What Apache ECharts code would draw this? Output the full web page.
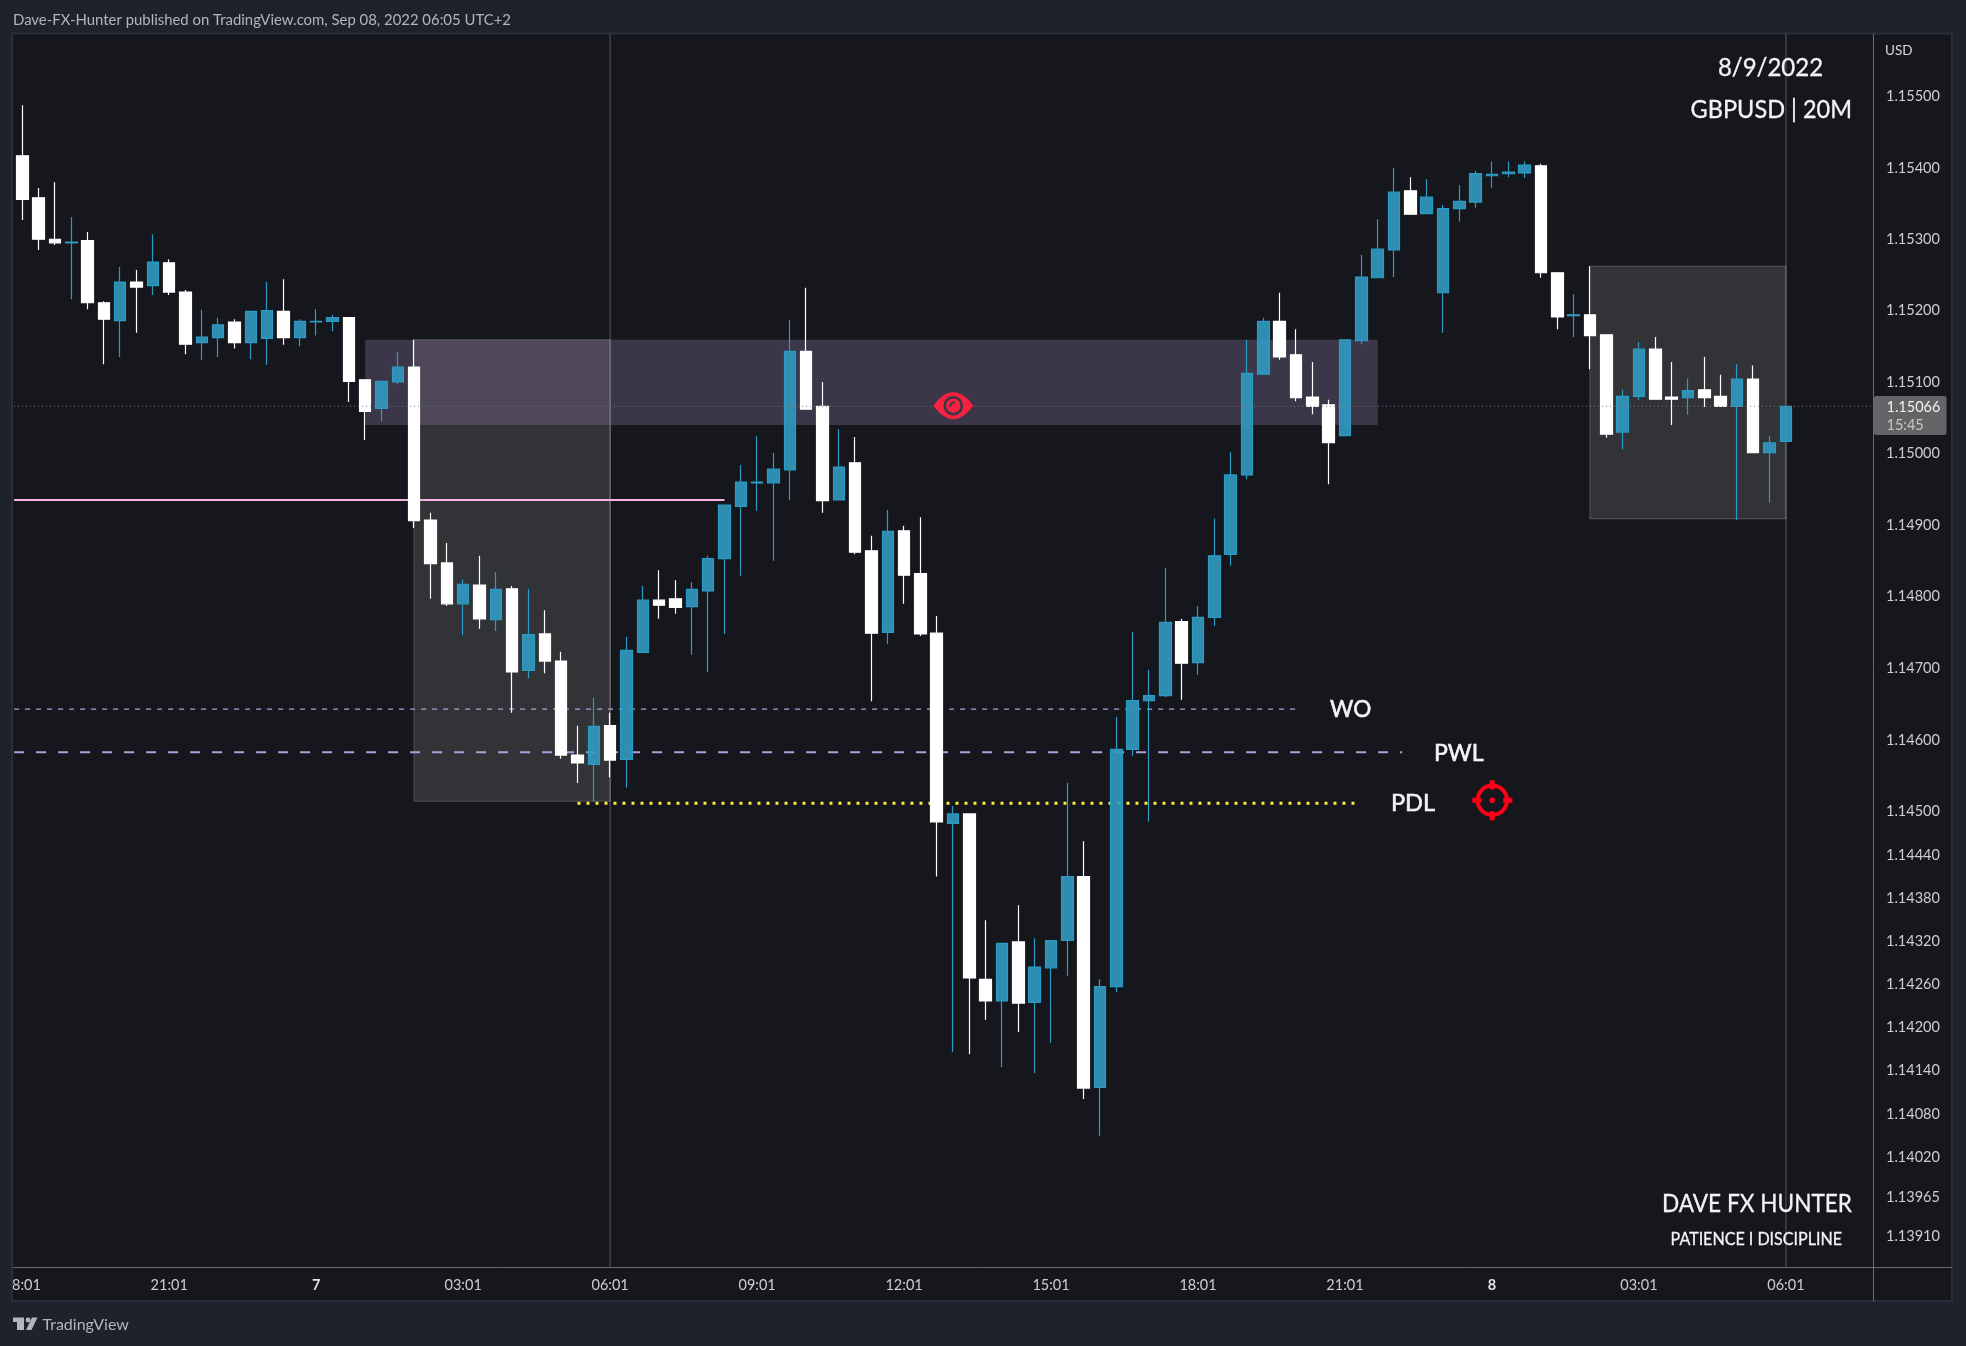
<!DOCTYPE html>
<html><head><meta charset="utf-8">
<style>html,body{margin:0;padding:0;background:#1e222d}#c{width:1966px;height:1346px}</style>
<script src="https://cdn.jsdelivr.net/npm/echarts@6/dist/echarts.min.js"></script>
</head><body><div id="c"></div>
<script>
const opens = [1.15417,1.15358,1.15300,1.15295,1.15298,1.15211,1.15186,1.15240,1.15235,1.15267,1.15226,1.15155,1.15162,1.15184,1.15155,1.15161,1.15199,1.15162,1.15184,1.15185,1.15190,1.15103,1.15063,1.15100,1.15121,1.14907,1.14847,1.14790,1.14816,1.14768,1.14811,1.14697,1.14748,1.14710,1.14579,1.14566,1.14620,1.14573,1.14722,1.14795,1.14797,1.14786,1.14808,1.14853,1.14926,1.14959,1.14959,1.14977,1.15143,1.15066,1.14935,1.14987,1.14864,1.14750,1.14892,1.14832,1.14749,1.14484,1.14497,1.14267,1.14237,1.14319,1.14235,1.14283,1.14321,1.14410,1.14117,1.14257,1.14587,1.14655,1.14662,1.14765,1.14708,1.14771,1.14859,1.14970,1.15111,1.15185,1.15138,1.15079,1.15068,1.15025,1.15158,1.15246,1.15285,1.15368,1.15336,1.15225,1.15343,1.15352,1.15389,1.15392,1.15393,1.15403,1.15253,1.15193,1.15194,1.15166,1.15030,1.15080,1.15146,1.15079,1.15078,1.15089,1.15080,1.15066,1.15104,1.15001,1.15017];
const highs = [1.15488,1.15372,1.15380,1.15331,1.15310,1.15213,1.15261,1.15257,1.15307,1.15272,1.15229,1.15201,1.15190,1.15188,1.15199,1.15240,1.15244,1.15188,1.15202,1.15194,1.15190,1.15104,1.15101,1.15142,1.15159,1.14917,1.14875,1.14824,1.14857,1.14834,1.14815,1.14811,1.14781,1.14723,1.14620,1.14659,1.14638,1.14744,1.14815,1.14837,1.14823,1.14820,1.14857,1.14928,1.14984,1.15024,1.15001,1.15187,1.15232,1.15100,1.15034,1.15023,1.14885,1.14921,1.14899,1.14911,1.14773,1.14508,1.14497,1.14349,1.14317,1.14370,1.14324,1.14321,1.14540,1.14459,1.14267,1.14632,1.14751,1.14698,1.14840,1.14769,1.14787,1.14909,1.15002,1.15159,1.15190,1.15225,1.15174,1.15128,1.15075,1.15159,1.15278,1.15328,1.15400,1.15387,1.15384,1.15348,1.15376,1.15396,1.15409,1.15409,1.15409,1.15406,1.15254,1.15223,1.15262,1.15166,1.15089,1.15156,1.15163,1.15128,1.15105,1.15135,1.15110,1.15125,1.15123,1.15024,1.15066];
const lows = [1.15327,1.15285,1.15292,1.15216,1.15202,1.15125,1.15135,1.15169,1.15222,1.15222,1.15139,1.15131,1.15135,1.15147,1.15132,1.15124,1.15152,1.15150,1.15165,1.15171,1.15072,1.15019,1.15045,1.15097,1.14896,1.14797,1.14787,1.14746,1.14755,1.14752,1.14638,1.14686,1.14693,1.14574,1.14540,1.14514,1.14548,1.14534,1.14722,1.14769,1.14776,1.14719,1.14695,1.14748,1.14829,1.14920,1.14850,1.14935,1.15062,1.14917,1.14935,1.14859,1.14654,1.14734,1.14790,1.14745,1.14410,1.14166,1.14163,1.14211,1.14145,1.14194,1.14137,1.14179,1.14272,1.14101,1.14050,1.14249,1.14578,1.14486,1.14660,1.14656,1.14691,1.14759,1.14843,1.14964,1.15110,1.15131,1.15073,1.15055,1.14957,1.15025,1.15153,1.15246,1.15247,1.15334,1.15335,1.15169,1.15325,1.15344,1.15372,1.15387,1.15386,1.15246,1.15174,1.15163,1.15118,1.15022,1.15006,1.15075,1.15075,1.15040,1.15054,1.15065,1.15066,1.14907,1.15001,1.14931,1.15017];
const closes = [1.15356,1.15300,1.15295,1.15296,1.15211,1.15188,1.15240,1.15233,1.15268,1.15226,1.15153,1.15163,1.15180,1.15155,1.15199,1.15200,1.15162,1.15185,1.15185,1.15190,1.15101,1.15059,1.15101,1.15121,1.14906,1.14846,1.14790,1.14817,1.14769,1.14810,1.14695,1.14747,1.14710,1.14579,1.14568,1.14619,1.14572,1.14725,1.14795,1.14788,1.14785,1.14810,1.14853,1.14928,1.14960,1.14960,1.14978,1.15143,1.15062,1.14934,1.14981,1.14862,1.14749,1.14891,1.14830,1.14748,1.14486,1.14497,1.14269,1.14237,1.14317,1.14234,1.14284,1.14321,1.14410,1.14116,1.14257,1.14587,1.14655,1.14662,1.14764,1.14707,1.14771,1.14857,1.14970,1.15112,1.15185,1.15135,1.15078,1.15066,1.15015,1.15159,1.15247,1.15286,1.15366,1.15335,1.15359,1.15343,1.15353,1.15392,1.15391,1.15394,1.15404,1.15253,1.15191,1.15194,1.15165,1.15027,1.15080,1.15146,1.15076,1.15076,1.15088,1.15078,1.15066,1.15104,1.15001,1.15015,1.15066];
const timeTicks = ['18:01','21:01','7','03:01','06:01','09:01','12:01','15:01','18:01','21:01','8','03:01','06:01'];
const priceTicks = [1.155,1.154,1.153,1.152,1.151,1.15,1.149,1.148,1.147,1.146,1.145,1.1444,1.1438,1.1432,1.1426,1.142,1.1414,1.1408,1.1402,1.13965,1.1391];
const lastPrice = 1.15066;
const zonePurple = [21,1.15159,83,1.15040];
const zoneGrayA = [24,1.15159,36,1.14515];
const zoneGrayB = [96,1.15262,108,1.14909];
const pinkLevel = [-0.5,43,1.14935];
const woLevel = [-0.5,78,1.14643];
const pwlLevel = [-0.5,84.5,1.14583];
const pdlLevel = [34,81.6,1.14512];
const crossBars = [36,108];

const yMin = 1.138666, yMax = 1.155881, slots = 114;
const bg='#16171c', page='#1e222d', frame='#2a2e39', axisCol='#6a6c73', txt='#ccced3', bright='#f2f3f6', F='Lato, "Open Sans", sans-serif';
const candles = opens.map((o,i)=>[o,closes[i],lows[i],highs[i]]);
const cats = Array.from({length:slots},(_,i)=>String(i));

function line(id,lv,style,z){return {id,type:'line',xAxisIndex:1,yAxisIndex:0,z:z||1,silent:true,symbol:'none',animation:false,
  data:[[lv[0],lv[2]],[lv[1],lv[2]]],lineStyle:style};}
function vline(i){return {type:'line',xAxisIndex:1,yAxisIndex:0,z:1,silent:true,symbol:'none',animation:false,
  data:[[i,yMin],[i,yMax]],lineStyle:{color:'rgba(255,255,255,0.2)',width:1.4}};}
function area(zn,fill,border){return {type:'line',xAxisIndex:1,yAxisIndex:0,z:1,silent:true,symbol:'none',data:[],animation:false,
  markArea:{silent:true,animation:false,z:1,itemStyle:{color:fill,borderColor:border,borderWidth:border?1.2:0},
    data:[[{xAxis:zn[0],yAxis:zn[1]},{xAxis:zn[2],yAxis:zn[3]}]]}};}

function T(text,x,y,size,color,opt){opt=opt||{};return {type:'text',z:100,x,y,scaleX:opt.sx||1,style:{text,fill:color,font:'normal '+size+'px '+F,textAlign:opt.a||'left',textVerticalAlign:'middle',stroke:opt.b?color:null,lineWidth:opt.b||0}};}
const eyeCx=953.3, eyeCy=405.7, red='#f6223f';
const almond=[]; for(let k=-20;k<=20;k+=2){almond.push([eyeCx+k,eyeCy-13.5*(1-Math.pow(k/20,2))]);} for(let k=20;k>=-20;k-=2){almond.push([eyeCx+k,eyeCy+13.5*(1-Math.pow(k/20,2))]);}
const tx=1492.3, ty=800.3, tg='#ff0019';
const graphics=[
 {type:'rect',z:-5,shape:{x:12,y:33.5,width:1940,height:1267.5},style:{fill:bg,stroke:frame,lineWidth:2}},
 {type:'line',z:90,shape:{x1:13,y1:1267.5,x2:1952,y2:1267.5},style:{stroke:axisCol,lineWidth:1}},
 {type:'line',z:90,shape:{x1:1873.5,y1:34,x2:1873.5,y2:1301},style:{stroke:axisCol,lineWidth:1}},
 {type:'rect',z:95,shape:{x:0,y:1270,width:11,height:34},style:{fill:page}},
 {type:'rect',z:95,shape:{x:11,y:1270,width:2,height:32},style:{fill:frame}},
 T('Dave-FX-Hunter published on TradingView.com, Sep 08, 2022 06:05 UTC+2',13,20,14.9,'#b2b5be'),
 T('USD',1885,51,13.5,'#d8d9dd'),
 {type:'rect',z:96,shape:{x:1874,y:396,width:72.5,height:39,r:2},style:{fill:'#636466'}},
 T(lastPrice.toFixed(5),1886.5,407,14.5,'#f0f0f0'),
 T('15:45',1886.5,425.5,14.5,'#c8c8c8'),
 T('8/9/2022',1770.5,68.2,25,bright,{a:'center',sx:0.96,b:0.3}),
 T('GBPUSD | 20M',1852,109.5,25,bright,{a:'right',sx:0.94,b:0.3}),
 T('DAVE FX HUNTER',1852,1203.5,25,bright,{a:'right',sx:0.905,b:0.3}),
 T('PATIENCE I DISCIPLINE',1842,1239.2,17,bright,{a:'right',sx:0.945,b:0.3}),
 T('WO',1330,709.2,24,bright,{sx:0.94,b:0.6}),
 T('PWL',1434,753.5,24,bright,{sx:0.96,b:0.6}),
 T('PDL',1391,803.5,24,bright,{sx:0.98,b:0.6}),
 {type:'polygon',z:50,shape:{points:almond},style:{fill:red}},
 {type:'circle',z:51,shape:{cx:eyeCx,cy:eyeCy,r:8.5},style:{fill:red,stroke:'#3b3646',lineWidth:2.6}},
 {type:'arc',z:52,shape:{cx:eyeCx+1,cy:eyeCy+1,r:4.2,startAngle:Math.PI,endAngle:Math.PI*1.55},style:{stroke:'#3b3646',lineWidth:2,fill:null}},
 {type:'circle',z:50,shape:{cx:tx,cy:ty,r:14.7},style:{fill:null,stroke:tg,lineWidth:4}},
 {type:'rect',z:50,shape:{x:tx-2.5,y:ty-20,width:5,height:9},style:{fill:tg}},
 {type:'rect',z:50,shape:{x:tx-2.5,y:ty+11,width:5,height:9},style:{fill:tg}},
 {type:'rect',z:50,shape:{x:tx-20,y:ty-2.5,width:9,height:5},style:{fill:tg}},
 {type:'rect',z:50,shape:{x:tx+11,y:ty-2.5,width:9,height:5},style:{fill:tg}},
 {type:'circle',z:50,shape:{cx:tx,cy:ty,r:2.8},style:{fill:tg}},
 {type:'polygon',z:100,shape:{points:[[13,1317.5],[24,1317.5],[24,1330],[17,1330],[17,1322],[13,1322]]},style:{fill:'#b2b5be'}},
 {type:'circle',z:100,shape:{cx:28,cy:1320,r:2.4},style:{fill:'#b2b5be'}},
 {type:'polygon',z:100,shape:{points:[[32,1317.5],[37.5,1317.5],[31.5,1330],[26,1330]]},style:{fill:'#b2b5be'}},
 T('TradingView',42.5,1324.5,16,'#b2b5be')
];

const chart=echarts.init(document.getElementById('c'),null,{renderer:'canvas'});
chart.setOption({
 backgroundColor:page,animation:false,
 grid:{left:14.1,top:34,width:16.33*slots,height:1234,show:false},
 xAxis:[
  {type:'category',data:cats,boundaryGap:true,axisLine:{show:false},axisTick:{show:false},splitLine:{show:false},
   axisLabel:{interval:8,hideOverlap:false,showMinLabel:true,margin:10,color:txt,fontFamily:F,fontSize:14.5,
     formatter:(v)=>{const s=timeTicks[Number(v)/9]; if(s==null) return ''; return s.length===1?'{d|'+s+'}':s;},
     rich:{d:{fontWeight:'bold',color:'#e4e5e9',fontSize:14.5,fontFamily:F}}}},
  {type:'value',min:-0.5,max:slots-0.5,show:false,splitLine:{show:false}}
 ],
 yAxis:[{type:'log',logBase:Math.E,min:yMin,max:yMax,position:'right',offset:-2.7,axisLine:{show:false},axisTick:{show:false},splitLine:{show:false},
   axisLabel:{customValues:priceTicks,margin:13,color:txt,fontFamily:F,fontSize:14.5,align:'left',hideOverlap:false,showMinLabel:true,showMaxLabel:true,
     formatter:(v)=>Number(v).toFixed(5)}}],
 graphic:{elements:graphics},
 series:[
  area(zoneGrayA,'#323337','#4c4d50'),
  area(zoneGrayB,'#323337','#4c4d50'),
  area(zonePurple,'rgba(120,105,145,0.38)',null),
  ...crossBars.map(vline),
  line('pink',pinkLevel,{color:'#f4b3e0',width:2}),
  line('wo',woLevel,{color:'#b39ddb',width:1.2,type:[5,6]}),
  line('pwl',pwlLevel,{color:'#b39ddb',width:2,type:[10,12]}),
  line('pdl',pdlLevel,{color:'#ffeb3b',width:3,type:[3,6]}),
  {type:'candlestick',xAxisIndex:0,yAxisIndex:0,z:2,barWidth:12,silent:true,data:candles,animation:false,
   itemStyle:{color:'rgba(50,154,194,0.9)',color0:'#ffffff',borderColor:'#2a9bc4',borderColor0:'#ffffff',borderWidth:1.2}},
  line('last',[-0.5,113.3,lastPrice],{color:'#787b86',width:1,type:[1,3]},5)
 ]
});
</script></body></html>
